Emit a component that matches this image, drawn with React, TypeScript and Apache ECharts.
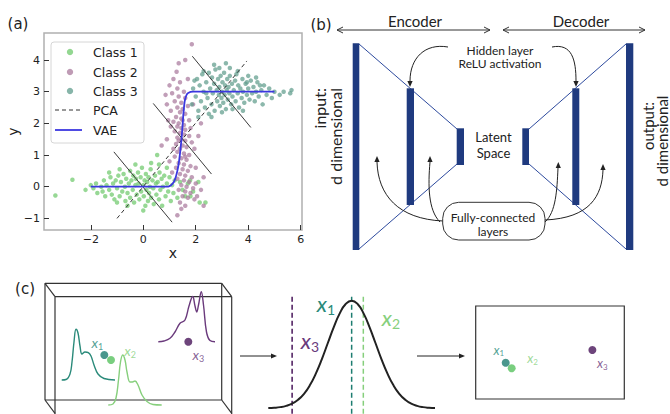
import React, { useEffect, useRef } from 'react';
import * as echarts from 'echarts';

// ---------- Panel (a) data ----------
const class1Points: number[][] = [
  [-3.35,-0.28],[-2.7,0.22],[-2.0,0.05],[-1.9,-0.05],[-1.8,0.1],[-1.75,-0.2],[-1.6,0.0],[-1.55,-0.15],[-1.5,0.2],[-1.45,-0.3],
  [-1.4,0.05],[-1.3,-0.1],[-1.25,0.3],[-1.2,-0.25],[-1.15,0.1],[-1.1,-0.4],[-1.05,0.2],[-1.0,-0.05],[-0.95,0.35],[-0.9,-0.3],
  [-0.85,0.15],[-0.8,-0.15],[-0.75,0.4],[-0.7,0.0],[-0.68,-0.45],[-0.65,0.25],[-0.6,-0.2],[-0.55,0.1],[-0.5,0.5],[-0.5,-0.35],
  [-0.45,0.2],[-0.4,-0.1],[-0.38,0.35],[-0.35,-0.5],[-0.3,0.05],[-0.28,0.25],[-0.25,-0.25],[-0.2,0.45],[-0.18,0.1],[-0.15,-0.4],
  [-0.1,0.3],[-0.08,-0.15],[-0.05,0.6],[0.0,0.05],[0.02,-0.3],[0.05,0.2],[0.08,-0.6],[0.1,0.4],[0.12,-0.1],[0.15,0.15],
  [0.18,-0.45],[0.2,0.3],[0.22,-0.2],[0.25,0.0],[0.28,0.55],[0.3,-0.35],[0.35,0.2],[0.38,-0.05],[0.4,-0.55],[0.45,0.35],
  [0.48,0.1],[0.5,-0.25],[0.53,1.0],[0.55,0.15],[0.6,-0.4],[0.62,0.45],[0.65,-0.1],[0.7,0.25],[0.72,-0.6],[0.75,0.0],
  [0.8,0.35],[0.85,-0.3],[0.9,0.1],[0.95,-0.15],[1.0,0.3],[1.05,-0.45],[1.1,0.05],[1.15,-0.2],[1.2,0.2],[1.3,-0.35],
  [1.4,0.15],[1.5,-0.1],[1.6,-0.3],[1.7,0.1],[1.9,-0.15],[2.1,0.15],[2.15,-0.5],[2.37,-0.5],[-0.9,0.55],[-0.3,0.7],
  [0.3,0.75],[-1.3,0.45],[0.0,-0.75],[-0.6,-0.6],[0.9,0.6],[-2.2,-0.1],[1.78,0.2],[1.8,-0.3],[-1.0,-0.5],[0.6,0.7]
];
const class2Points: number[][] = [
  [1.85,4.5],[1.27,3.63],[1.15,3.4],[1.4,3.3],[1.3,3.1],[1.55,3.0],[1.1,2.95],[1.35,2.85],[1.6,2.8],[1.2,2.7],
  [1.45,2.65],[0.9,2.6],[1.7,2.55],[1.3,2.5],[1.5,2.45],[1.05,2.4],[1.4,2.35],[1.6,2.3],[1.25,2.2],[1.45,2.15],
  [1.75,2.1],[1.15,2.05],[1.35,2.0],[1.55,1.95],[1.3,1.9],[1.45,1.85],[1.6,1.8],[1.2,1.75],[1.4,1.7],[1.55,1.65],
  [1.75,1.6],[1.3,1.55],[1.45,1.5],[1.6,1.45],[1.85,1.4],[1.25,1.35],[1.5,1.3],[1.65,1.25],[1.4,1.2],[1.95,1.2],
  [1.3,1.1],[1.55,1.05],[1.75,1.0],[1.2,0.95],[1.45,0.9],[1.65,0.85],[1.0,0.8],[1.35,0.75],[1.55,0.7],[1.8,0.65],
  [1.25,0.6],[1.5,0.55],[1.7,0.5],[1.1,0.45],[1.4,0.4],[1.6,0.35],[1.85,0.3],[1.3,0.25],[1.55,0.2],[1.75,0.15],
  [2.0,0.1],[1.45,0.05],[1.65,0.0],[1.9,-0.05],[1.35,-0.1],[1.6,-0.15],[1.8,-0.2],[2.2,-0.1],[1.5,-0.3],[1.7,-0.35],
  [1.95,-0.4],[1.4,-0.5],[1.6,-0.6],[1.3,-0.9],[2.3,0.3],[0.9,1.5],[0.7,1.3],[0.95,2.1],[2.1,1.6],[2.2,2.0],
  [1.0,3.2],[1.7,3.4],[0.85,2.9],[1.9,2.6],[2.0,0.6],[1.15,1.2],[1.05,1.9],[1.8,1.85],[1.35,3.9],[1.6,4.0],
  [2.3,-0.6],[2.05,-0.3],[1.5,2.1],[1.35,1.45],[1.6,0.95],[1.45,-0.7]
];
const class3Points: number[][] = [
  [1.85,2.6],[1.9,3.1],[2.0,2.85],[2.05,3.4],[2.1,2.4],[2.15,3.2],[2.2,2.7],[2.25,3.55],[2.3,3.0],[2.35,2.5],
  [2.4,3.3],[2.45,2.8],[2.5,3.6],[2.55,3.1],[2.6,2.6],[2.62,3.45],[2.65,2.95],[2.7,3.25],[2.72,2.4],[2.75,3.7],
  [2.8,3.05],[2.82,2.7],[2.85,3.4],[2.88,2.9],[2.9,3.15],[2.92,2.55],[2.95,3.5],[2.98,2.8],[3.0,3.0],[3.02,3.3],
  [3.05,2.65],[3.08,3.6],[3.1,2.9],[3.12,3.2],[3.15,2.45],[3.18,3.05],[3.2,3.4],[3.22,2.75],[3.25,3.15],[3.28,2.95],
  [3.3,3.5],[3.35,2.6],[3.38,3.25],[3.4,2.85],[3.45,3.05],[3.5,3.35],[3.52,2.7],[3.55,3.55],[3.6,2.95],[3.62,3.2],
  [3.65,2.5],[3.7,3.1],[3.75,2.8],[3.78,3.4],[3.8,3.0],[3.85,2.65],[3.9,3.25],[3.95,2.9],[4.0,3.1],[4.05,2.75],
  [4.1,3.35],[4.15,2.95],[4.2,3.15],[4.25,2.7],[4.3,3.0],[4.35,3.3],[4.4,2.85],[4.5,3.05],[4.55,2.6],[4.6,3.2],
  [4.7,2.9],[4.8,3.1],[4.9,2.8],[5.0,3.0],[5.2,2.9],[5.35,3.0],[5.6,2.95],[5.65,3.05],[2.5,2.3],[3.0,2.35],
  [3.4,2.45],[2.3,3.65],[2.9,3.75],[3.3,3.75],[3.6,3.65],[4.0,3.5],[4.3,3.45],[2.6,2.2],[3.8,2.4],[2.1,2.2],
  [1.95,3.35],[2.7,3.85],[3.15,3.9],[4.45,3.2],[3.95,3.3],[2.4,2.95]
];
const pcaLine: number[][] = [[-1.0,-1.0],[3.95,3.97]];
const perpSegments: number[][][] = [
  [[-1.12,1.1],[1.1,-1.12]],
  [[0.38,2.63],[2.6,0.4]],
  [[1.87,4.12],[4.1,1.87]]
];
const vaeCurve: number[][] = [
  [-2,0],[0.6,0],[0.9,0.0],[1.0,0.02],[1.1,0.08],[1.2,0.21],[1.3,0.5],[1.37,0.84],[1.42,1.2],[1.46,1.53],
  [1.5,1.95],[1.53,2.3],[1.58,2.7],[1.64,2.88],[1.71,2.96],[1.9,3.0],[2.2,3.0],[5.0,3.0]
];
const xTicks = [-2, 0, 2, 4, 6];
const yTicks = [-1, 0, 1, 2, 3, 4];
const legendNames = ['Class 1', 'Class 2', 'Class 3', 'PCA', 'VAE'];

// ---------- Panel (c) data ----------
const densityX1: number[][] = [
  [16.7,34],[21,34.5],[25,40],[27,52],[29,72],[31,84.7],[33,81],[35,68],[37,60],[40,62],
  [43.3,61.3],[46,58],[49,49],[53,40],[59,35.5],[70,34]
];
const densityX2: number[][] = [
  [63.3,9],[68,10],[71,16],[73.5,34],[75.5,52],[77.7,59],[80,54],[82,42],[85,32],[87.5,32],
  [90,33],[93,29],[97,19],[102,12.5],[108,9.5],[116.7,9]
];
const densityX3: number[][] = [
  [113.3,72.3],[119,73],[125,75.7],[130,82],[135,90.7],[140,94],[144,108],[147.7,117.5],[150,108],[151.7,102],
  [153.5,109],[156.3,122.3],[158.5,109],[161.5,82],[165,73.5],[170,72.3]
];
const inputSpacePoints: number[][] = [[59.3,59],[66,54],[143.3,72.3]];
const gaussX = [-3.5,-3.25,-3,-2.75,-2.5,-2.25,-2,-1.75,-1.5,-1.25,-1,-0.75,-0.5,-0.25,0,0.25,0.5,0.75,1,1.25,1.5,1.75,2,2.25,2.5,2.75,3,3.25,3.5];
const gaussY = [0.002,0.005,0.011,0.023,0.044,0.080,0.135,0.216,0.325,0.458,0.607,0.755,0.882,0.969,1.0,0.969,0.882,0.755,0.607,0.458,0.325,0.216,0.135,0.080,0.044,0.023,0.011,0.005,0.002];
const latentCodes = [0, 0.49, -2.5]; // x1, x2, x3
const latentSpacePoints: number[][] = [[2.02,2.34],[2.42,1.98],[7.85,3.16]];
const pointNames = ['1', '2', '3'];

// ---------- styles ----------
const C1 = '#6fc96c';
const C2 = '#a9799c';
const C3 = '#5f9c8c';
const VAE_COLOR = '#3b37e0';
const NAVY = '#1f3a7f';
const TEAL = '#1d7d70';
const TEAL_L = '#2a8a7a';
const GREEN = '#58c25f';
const GREEN_L = '#86cf7c';
const PURPLE = '#48155a';
const PURPLE_L = '#6a3a7c';
const TXT = '#222';
const DJ = '"DejaVu Sans", sans-serif';
const LATO = 'Lato, sans-serif';

const txt = (x: number, y: number, text: string, fontSize: number, extra: any = {}) => ({
  type: 'text', x, y, z: 50,
  style: {
    text, fontSize, fontFamily: extra.fontFamily || LATO, fill: extra.fill || TXT,
    align: extra.align || 'center', textAlign: extra.align || 'center',
    verticalAlign: 'middle', textVerticalAlign: 'middle'
  },
  rotation: extra.rotation || 0
});
const head = (x: number, y: number, dx: number, dy: number, len = 6, w = 2.6, color = '#222') => {
  const L = Math.hypot(dx, dy); const ux = dx / L, uy = dy / L; const px = -uy, py = ux;
  return {
    type: 'polygon', z: 40,
    shape: { points: [[x, y], [x - ux * len + px * w, y - uy * len + py * w], [x - ux * len - px * w, y - uy * len - py * w]] },
    style: { fill: color }
  };
};
const openHead = (x: number, y: number, dir: number) => ({
  type: 'polyline', z: 40,
  shape: { points: [[x - dir * 6, y - 3], [x, y], [x - dir * 6, y + 3]] },
  style: { stroke: '#333', lineWidth: 1, fill: 'none' }
});
const ln = (x1: number, y1: number, x2: number, y2: number, stroke = '#333', lineWidth = 1, z = 30) => ({
  type: 'line', z, shape: { x1, y1, x2, y2 }, style: { stroke, lineWidth }
});
const bez = (x1: number, y1: number, cpx1: number, cpy1: number, cpx2: number, cpy2: number, x2: number, y2: number) => ({
  type: 'bezierCurve', z: 40, shape: { x1, y1, cpx1, cpy1, cpx2, cpy2, x2, y2 },
  style: { stroke: '#222', lineWidth: 1, fill: 'none' }
});
const subRich = (color: string, size: number) => ({
  x: { fontSize: size, fontStyle: 'italic', color, fill: color, fontFamily: LATO },
  s: { fontSize: Math.round(size * 0.62), color, fill: color, fontFamily: LATO, padding: [Math.round(size * 0.55), 0, 0, 0] }
});

export default function App() {
  const ref = useRef<HTMLDivElement>(null);
  useEffect(() => {
    const chart = echarts.init(ref.current!, null, { renderer: 'svg' });
    const minusFmt = (v: number) => (v < 0 ? '\u2212' + Math.abs(v) : String(v));

    const dotColors = [TEAL, GREEN, PURPLE];
    const labelColors = [TEAL_L, GREEN_L, PURPLE_L];
    const boxOffsets = [[-7, -13], [19, -10], [10, 13]];
    const rightOffsets = [[-7, -13], [21, -10], [10, 13]];

    const series: any[] = [
      { type: 'scatter', name: 'Class 1', data: class1Points, symbolSize: 4.5, itemStyle: { color: C1, opacity: 0.72 }, z: 2 },
      { type: 'scatter', name: 'Class 2', data: class2Points, symbolSize: 4.5, itemStyle: { color: C2, opacity: 0.72 }, z: 2 },
      { type: 'scatter', name: 'Class 3', data: class3Points, symbolSize: 4.5, itemStyle: { color: C3, opacity: 0.72 }, z: 2 },
      { type: 'line', name: 'PCA', data: pcaLine, showSymbol: false, symbol: 'none', lineStyle: { color: '#333', width: 1, type: [4, 3] }, z: 3 },
      ...perpSegments.map((seg, i) => ({
        type: 'line', name: 'perp' + i, data: seg, symbol: 'none', lineStyle: { color: '#3a3a3a', width: 1 }, z: 3
      })),
      { type: 'line', name: 'VAE', data: vaeCurve, symbol: 'none', smooth: 0.35, lineStyle: { color: VAE_COLOR, width: 1.8 }, z: 4 },
      // panel (c) input space
      ...[densityX1, densityX2, densityX3].map((d, i) => ({
        type: 'line', xAxisIndex: 1, yAxisIndex: 1, data: d, symbol: 'none', smooth: 0.4,
        lineStyle: { color: [TEAL_L, GREEN_L, PURPLE_L][i], width: 1.4 }, z: 5
      })),
      {
        type: 'scatter', xAxisIndex: 1, yAxisIndex: 1, symbolSize: 8, z: 6,
        data: inputSpacePoints.map((p, i) => ({
          value: p, itemStyle: { color: dotColors[i] },
          label: { show: true, position: 'inside', offset: boxOffsets[i], formatter: `{x|x}{s|${pointNames[i]}}`, rich: subRich(labelColors[i], 14) }
        }))
      },
      // gaussian
      {
        type: 'line', xAxisIndex: 2, yAxisIndex: 2, data: gaussX.map((x, i) => [x, gaussY[i]]), symbol: 'none', smooth: true,
        lineStyle: { color: '#222', width: 2 }, z: 5
      },
      ...latentCodes.map((c, i) => ({
        type: 'line', xAxisIndex: 2, yAxisIndex: 2, data: [[c, -0.05], [c, 1.05]], symbol: 'none',
        lineStyle: { color: [TEAL, GREEN_L, PURPLE][i], width: 1.5, type: [5, 3] }, z: 4
      })),
      // latent space
      {
        type: 'scatter', xAxisIndex: 3, yAxisIndex: 3, symbolSize: 8, z: 6,
        data: latentSpacePoints.map((p, i) => ({
          value: p, itemStyle: { color: dotColors[i] },
          label: { show: true, position: 'inside', offset: rightOffsets[i], formatter: `{x|x}{s|${pointNames[i]}}`, rich: subRich(labelColors[i], 13) }
        }))
      }
    ];

    const hiddenAxis = (gridIndex: number, min: number, max: number) => ({ type: 'value', gridIndex, min, max, show: false });

    const legendRows = [52, 72, 91, 110, 130];
    const legendGraphics: any[] = [
      { type: 'rect', z: 90, shape: { x: 51, y: 42, width: 93, height: 101, r: 3 }, style: { fill: 'rgba(255,255,255,0.85)', stroke: '#d6d6d6', lineWidth: 1 } },
      ...[C1, C2, C3].map((c, i) => ({ type: 'circle', z: 91, shape: { cx: 70, cy: legendRows[i], r: 3.2 }, style: { fill: c, opacity: 0.75 } })),
      { type: 'line', z: 91, shape: { x1: 55, y1: legendRows[3], x2: 82, y2: legendRows[3] }, style: { stroke: '#333', lineWidth: 1, lineDash: [4, 3] } },
      { type: 'line', z: 91, shape: { x1: 55, y1: legendRows[4], x2: 82, y2: legendRows[4] }, style: { stroke: VAE_COLOR, lineWidth: 1.8 } },
      ...legendNames.map((n, i) => ({ ...txt(93, legendRows[i], n, 12.5, { fontFamily: DJ, align: 'left' }), z: 92 }))
    ];

    const panelB: any[] = [
      txt(321, 25, '(b)', 15, { fontFamily: DJ }),
      txt(415, 21, 'Encoder', 15),
      txt(581, 21, 'Decoder', 15),
      ln(337, 30, 490, 30), openHead(337, 30, -1), openHead(490, 30, 1),
      ln(503, 30, 645, 30), openHead(503, 30, -1), openHead(645, 30, 1),
      // connecting lines
      ln(359, 44, 457, 129, '#2d4a9e', 1, 20), ln(359, 249, 457, 164, '#2d4a9e', 1, 20),
      ln(626, 44, 529, 129, '#2d4a9e', 1, 20), ln(626, 249, 529, 164, '#2d4a9e', 1, 20),
      // bars
      ...[[352.7, 43.3, 6.6, 206.7], [406.7, 88.3, 7.3, 116.7], [456.7, 128.3, 7.3, 36.7],
        [522.3, 128.3, 6.7, 36.7], [572.3, 88.3, 7.0, 116.7], [626, 43.3, 7.3, 206.7]].map(b => ({
          type: 'rect', z: 25, shape: { x: b[0], y: b[1], width: b[2], height: b[3] }, style: { fill: NAVY }
        })),
      txt(500, 50, 'Hidden layer', 12),
      txt(500, 63.5, 'ReLU activation', 12),
      txt(493.5, 137, 'Latent', 13),
      txt(493.5, 152.5, 'Space', 13),
      // hidden layer arrows
      bez(448, 47, 425, 43, 410, 58, 410, 81), head(410, 87, 0, 1),
      bez(552, 47, 572, 43, 576, 60, 576, 81), head(576, 87, 0, 1),
      // fully connected box
      { type: 'rect', z: 45, shape: { x: 442.7, y: 202.3, width: 102.3, height: 37.7, r: 16 }, style: { fill: '#fff', stroke: '#333', lineWidth: 1 } },
      { ...txt(493, 217.5, 'Fully-connected', 12), z: 50 },
      { ...txt(493, 231, 'layers', 12), z: 50 },
      bez(443, 221, 398, 219, 378, 195, 377, 162), head(377, 156, 0, -1),
      bez(440, 222, 428, 210, 428, 185, 430, 162), head(430, 156, 0, -1),
      bez(545, 222, 556, 212, 557, 190, 558, 168), head(558.3, 162, 0, -1),
      bez(545, 220, 590, 218, 602, 196, 603, 170), head(603, 164, 0, -1),
      // rotated labels
      txt(319, 88, 'input:', 16, { rotation: Math.PI / 2, align: 'right' }),
      txt(335, 88, 'd dimensional', 16, { rotation: Math.PI / 2, align: 'right' }),
      txt(648, 126, 'output:', 15, { rotation: Math.PI / 2 }),
      txt(662, 141, 'd dimensional', 15, { rotation: Math.PI / 2 })
    ];

    const boxStroke = '#333';
    const panelC: any[] = [
      txt(25, 289, '(c)', 15, { fontFamily: DJ }),
      ln(45, 283.3, 221.7, 283.3, boxStroke, 1.2, 1), ln(45, 283.3, 45, 400, boxStroke, 1.2, 1),
      ln(221.7, 283.3, 221.7, 400, boxStroke, 1.2, 1), ln(45, 400, 221.7, 400, boxStroke, 1.2, 1),
      ln(55, 296.7, 231.7, 296.7, boxStroke, 1.2, 1), ln(55, 296.7, 55, 420, boxStroke, 1.2, 1),
      ln(231.7, 296.7, 231.7, 420, boxStroke, 1.2, 1),
      ln(45, 283.3, 55, 296.7, boxStroke, 1.2, 1), ln(221.7, 283.3, 231.7, 296.7, boxStroke, 1.2, 1),
      ln(45, 400, 55, 413.3, boxStroke, 1.2, 1), ln(221.7, 400, 231.7, 413.3, boxStroke, 1.2, 1),
      ln(240, 356, 271, 356, '#222', 1), head(277, 356, 1, 0),
      ln(417, 356, 459, 356, '#222', 1), head(465, 356, 1, 0),
      ...latentCodes.map((_, i) => {
        const pos = [[326, 303], [391, 317], [310, 340]][i];
        return {
          type: 'text', x: pos[0], y: pos[1], z: 50,
          style: { text: `{x|x}{s|${pointNames[i]}}`, rich: subRich(labelColors[i], 22), align: 'center', verticalAlign: 'middle', textAlign: 'center', textVerticalAlign: 'middle' }
        };
      })
    ];

    chart.setOption({
      animation: false,
      backgroundColor: '#fff',
      grid: [
        { left: 44, top: 33, width: 258, height: 197, show: true, borderColor: '#b0b0b0', borderWidth: 1.5, backgroundColor: 'transparent' },
        { left: 45, top: 283, width: 190, height: 131 },
        { left: 268.3, top: 295.3, width: 166.7, height: 118.4 },
        { left: 475.7, top: 306, width: 148.6, height: 93, show: true, borderColor: '#333', borderWidth: 1.2 }
      ],
      xAxis: [
        {
          type: 'value', gridIndex: 0, min: -3.783, max: 6.05, position: 'bottom',
          name: 'x', nameLocation: 'middle', nameGap: 15,
          nameTextStyle: { fontFamily: DJ, fontSize: 14, color: TXT },
          axisLine: { show: false, onZero: false }, splitLine: { show: false },
          axisTick: { show: true, inside: true, length: 5, customValues: xTicks, lineStyle: { color: '#333' } },
          axisLabel: { show: true, margin: 4, customValues: xTicks, formatter: minusFmt, fontFamily: DJ, fontSize: 11, color: TXT }
        },
        hiddenAxis(1, 0, 190), hiddenAxis(2, -3.5, 3.5), hiddenAxis(3, 0, 10)
      ],
      yAxis: [
        {
          type: 'value', gridIndex: 0, min: -1.367, max: 4.853, position: 'left',
          name: 'y', nameLocation: 'middle', nameGap: 21,
          nameTextStyle: { fontFamily: DJ, fontSize: 14, color: TXT },
          axisLine: { show: false, onZero: false }, splitLine: { show: false },
          axisTick: { show: true, inside: true, length: 5, customValues: yTicks, lineStyle: { color: '#333' } },
          axisLabel: { show: true, margin: 4, customValues: yTicks, formatter: minusFmt, fontFamily: DJ, fontSize: 11, color: TXT }
        },
        hiddenAxis(1, 0, 131), hiddenAxis(2, -0.05, 1.05), hiddenAxis(3, 0, 6)
      ],
      series,
      graphic: [
        txt(18, 24, '(a)', 15, { fontFamily: DJ }),
        ...legendGraphics,
        ...panelB,
        ...panelC
      ]
    });
    return () => chart.dispose();
  }, []);
  return <div ref={ref} style={{ position: 'fixed', left: 0, top: 0, width: 670, height: 414 }} />;
}
